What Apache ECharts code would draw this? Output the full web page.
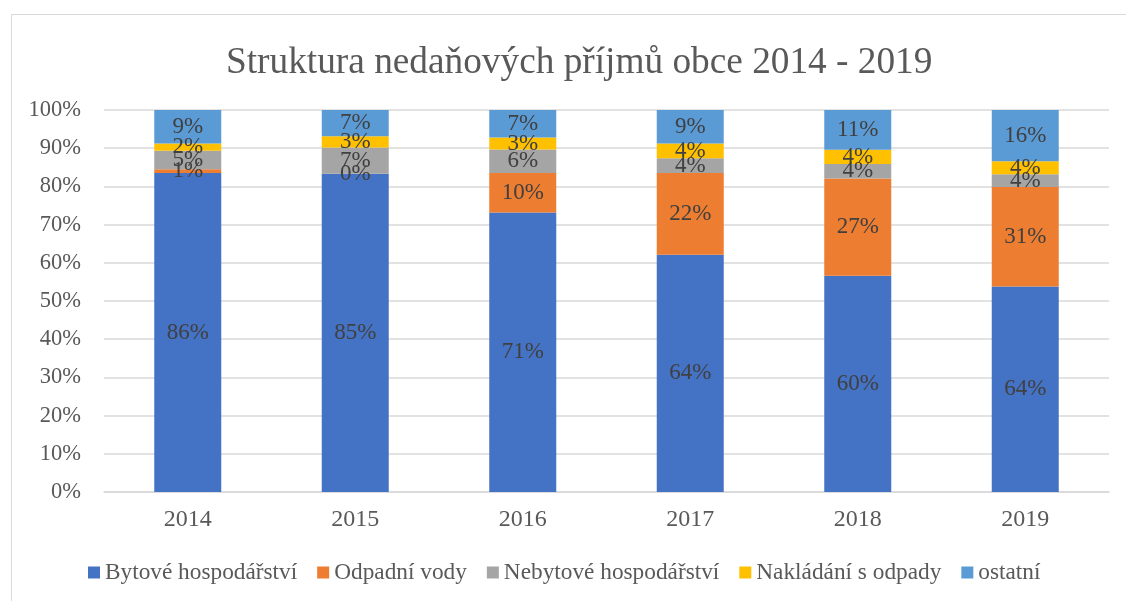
<!DOCTYPE html>
<html>
<head>
<meta charset="utf-8">
<script src="https://cdn.jsdelivr.net/npm/echarts@6/dist/echarts.min.js"></script>
<style>
html,body{margin:0;padding:0;background:#fff;}
#c{width:1126px;height:601px;}
</style>
</head>
<body>
<div id="c"></div>
<script>
const years = ['2014','2015','2016','2017','2018','2019'];
const bytove = [86, 85, 71, 64, 60, 64];
const odpadniVody = [1, 0, 10, 22, 27, 31];
const nebytove = [5, 7, 6, 4, 4, 4];
const nakladani = [2, 3, 3, 4, 4, 4];
const ostatni = [9, 7, 7, 9, 11, 16];
const seriesNames = ['Bytové hospodářství','Odpadní vody','Nebytové hospodářství','Nakládání s odpady','ostatní'];
const colors = ['#4472C4','#ED7D31','#A5A5A5','#FFC000','#5B9BD5'];
const raw = [bytove, odpadniVody, nebytove, nakladani, ostatni];

const totals = years.map((_, i) => raw.reduce((s, arr) => s + arr[i], 0));
const font = '"Liberation Serif","Times New Roman",serif';

const series = raw.map((arr, k) => ({
  name: seriesNames[k],
  type: 'bar',
  stack: 'all',
  barWidth: '40%',
  itemStyle: { color: colors[k] },
  label: {
    show: true,
    position: 'inside',
    color: '#404040',
    fontFamily: font,
    fontSize: 23,
    formatter: p => raw[k][p.dataIndex] + '%'
  },
  data: arr.map((v, i) => v / totals[i] * 100)
}));

const chart = echarts.init(document.getElementById('c'));
chart.setOption({
  animation: false,
  title: {
    text: 'Struktura nedaňových příjmů obce 2014 - 2019',
    left: 221,
    top: 40,
    textStyle: { fontFamily: font, fontSize: 37.3, fontWeight: 'normal', color: '#595959' }
  },
  graphic: [{
    type: 'rect',
    shape: { x: 11.5, y: 14.5, width: 1300, height: 800 },
    style: { fill: 'none', stroke: '#d9d9d9', lineWidth: 1 },
    silent: true
  }],
  grid: { left: 104, right: 17, top: 110, bottom: 109, containLabel: false },
  legend: {
    top: 556,
    left: 83,
    icon: 'rect',
    itemWidth: 12,
    itemHeight: 12,
    itemGap: 20,
    textStyle: { fontFamily: font, fontSize: 23.3, color: '#595959' },
    data: seriesNames
  },
  xAxis: {
    type: 'category',
    data: years,
    axisLine: { lineStyle: { color: '#d9d9d9', width: 1.5 } },
    axisTick: { show: false },
    axisLabel: { fontFamily: font, fontSize: 24, color: '#595959', margin: 16 }
  },
  yAxis: {
    type: 'value',
    min: 0, max: 100, interval: 10,
    axisLine: { show: false },
    axisTick: { show: false },
    splitLine: { lineStyle: { color: '#d9d9d9', width: 1.5 } },
    axisLabel: { fontFamily: font, fontSize: 22.5, color: '#595959', formatter: '{value}%', margin: 23 }
  },
  series: series
});
</script>
</body>
</html>
